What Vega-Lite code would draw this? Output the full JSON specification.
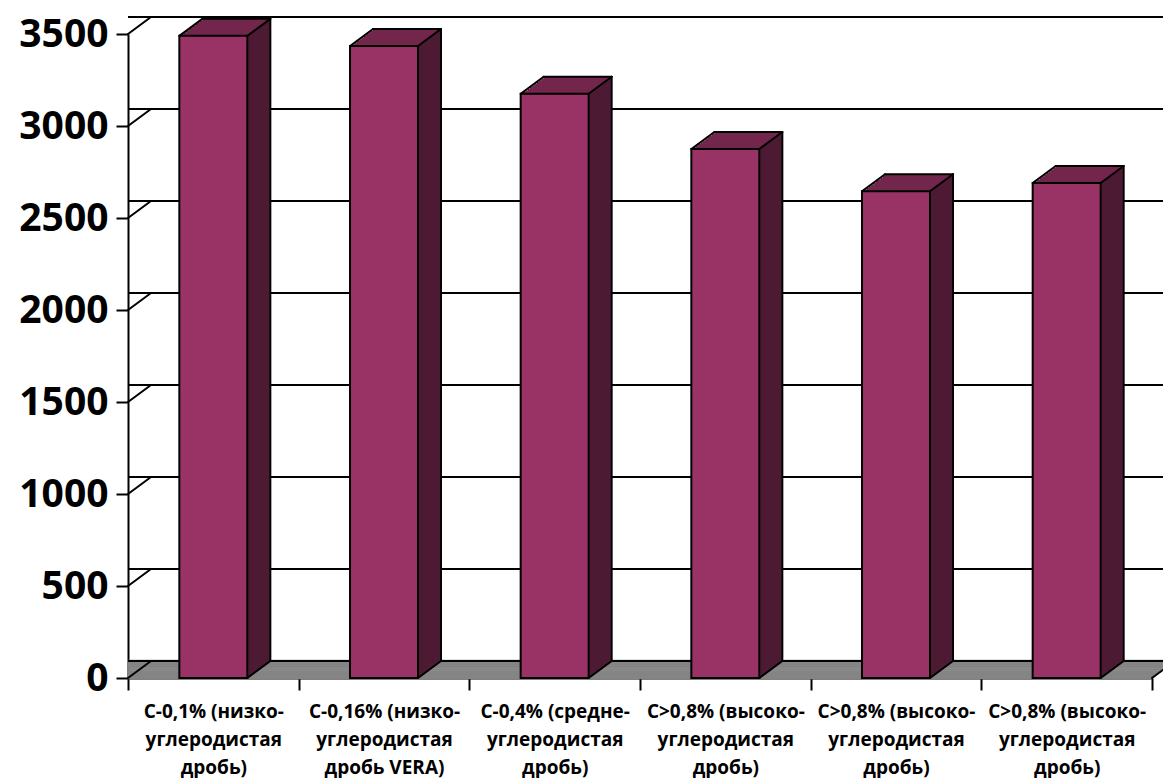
{
  "$schema": "https://vega.github.io/schema/vega-lite/v6.json",
  "width": 1024,
  "height": 644,
  "autosize": {"type": "none"},
  "padding": {"left": 128, "top": 34, "right": 11, "bottom": 100},
  "background": "white",
  "config": {
    "view": {"stroke": null},
    "axisX": {"grid": false, "tickBand": "extent", "labelFont": "Open Sans", "labelFontSize": 19, "labelFontWeight": "bold", "labelColor": "black", "labelLineHeight": 28, "labelPadding": 12, "labelAngle": 0, "labelLimit": 0, "tickSize": 12, "tickWidth": 2, "tickColor": "black", "domainColor": "black", "domainWidth": 2, "zindex": 1},
    "axisY": {"grid": false, "format": "d", "labelFont": "Open Sans", "labelFontSize": 39, "labelFontWeight": "bold", "labelColor": "black", "labelPadding": 8, "tickSize": 12, "tickWidth": 2, "tickColor": "black", "domainColor": "black", "domainWidth": 2, "zindex": 1}
  },
  "datasets": {
    "bars": [
      {"cat": "С-0,1% (низко-|углеродистая|дробь)", "value": 3490},
      {"cat": "С-0,16% (низко-|углеродистая|дробь VERA)", "value": 3435},
      {"cat": "С-0,4% (средне-|углеродистая|дробь)", "value": 3175},
      {"cat": "С>0,8% (высоко-|углеродистая|дробь)|1", "value": 2875},
      {"cat": "С>0,8% (высоко-|углеродистая|дробь)|2", "value": 2645},
      {"cat": "С>0,8% (высоко-|углеродистая|дробь)|3", "value": 2690}
    ],
    "grid": [{"g": 0}, {"g": 500}, {"g": 1000}, {"g": 1500}, {"g": 2000}, {"g": 2500}, {"g": 3000}, {"g": 3500}],
    "floor": [{"level": 0}]
  },
  "layer": [
    {"data": {"name": "floor"}, "mark": {"type": "rule", "color": "#848484", "strokeWidth": 2.6, "xOffset": 0, "x2Offset": 0, "yOffset": 0}, "encoding": {"y": {"field": "level", "type": "quantitative", "title": null}}},
    {"data": {"name": "floor"}, "mark": {"type": "rule", "color": "#848484", "strokeWidth": 2.6, "xOffset": 2.875, "x2Offset": 2.875, "yOffset": -2.125}, "encoding": {"y": {"field": "level", "type": "quantitative", "title": null}}},
    {"data": {"name": "floor"}, "mark": {"type": "rule", "color": "#848484", "strokeWidth": 2.6, "xOffset": 5.75, "x2Offset": 5.75, "yOffset": -4.25}, "encoding": {"y": {"field": "level", "type": "quantitative", "title": null}}},
    {"data": {"name": "floor"}, "mark": {"type": "rule", "color": "#848484", "strokeWidth": 2.6, "xOffset": 8.625, "x2Offset": 8.625, "yOffset": -6.375}, "encoding": {"y": {"field": "level", "type": "quantitative", "title": null}}},
    {"data": {"name": "floor"}, "mark": {"type": "rule", "color": "#848484", "strokeWidth": 2.6, "xOffset": 11.5, "x2Offset": 11.5, "yOffset": -8.5}, "encoding": {"y": {"field": "level", "type": "quantitative", "title": null}}},
    {"data": {"name": "floor"}, "mark": {"type": "rule", "color": "#848484", "strokeWidth": 2.6, "xOffset": 14.375, "x2Offset": 14.375, "yOffset": -10.625}, "encoding": {"y": {"field": "level", "type": "quantitative", "title": null}}},
    {"data": {"name": "floor"}, "mark": {"type": "rule", "color": "#848484", "strokeWidth": 2.6, "xOffset": 17.25, "x2Offset": 17.25, "yOffset": -12.75}, "encoding": {"y": {"field": "level", "type": "quantitative", "title": null}}},
    {"data": {"name": "floor"}, "mark": {"type": "rule", "color": "#848484", "strokeWidth": 2.6, "xOffset": 20.125, "x2Offset": 20.125, "yOffset": -14.875}, "encoding": {"y": {"field": "level", "type": "quantitative", "title": null}}},
    {"data": {"name": "floor"}, "mark": {"type": "rule", "color": "#848484", "strokeWidth": 2.6, "xOffset": 23, "x2Offset": 23, "yOffset": -17}, "encoding": {"y": {"field": "level", "type": "quantitative", "title": null}}},

    {"data": {"name": "grid"}, "mark": {"type": "rule", "color": "black", "strokeWidth": 2, "xOffset": 23, "x2Offset": 23, "yOffset": -17}, "encoding": {"y": {"field": "g", "type": "quantitative", "title": null}}},
    {"data": {"name": "grid"}, "mark": {"type": "rule", "color": "black", "strokeWidth": 2, "strokeCap": "round", "x2Offset": 23, "y2Offset": -17}, "encoding": {
      "x": {"datum": "С-0,1% (низко-|углеродистая|дробь)", "type": "nominal", "bandPosition": 0, "title": null},
      "x2": {"datum": "С-0,1% (низко-|углеродистая|дробь)", "bandPosition": 0},
      "y": {"field": "g", "type": "quantitative", "title": null},
      "y2": {"field": "g"}}},
    {"data": {"name": "floor"}, "mark": {"type": "rule", "color": "black", "strokeWidth": 2, "strokeCap": "round", "x2Offset": 23, "y2Offset": -17}, "encoding": {
      "x": {"datum": "С>0,8% (высоко-|углеродистая|дробь)|3", "type": "nominal", "bandPosition": 1, "title": null},
      "x2": {"datum": "С>0,8% (высоко-|углеродистая|дробь)|3", "bandPosition": 1},
      "y": {"datum": 0, "type": "quantitative", "title": null},
      "y2": {"datum": 0}}},

    {"data": {"name": "bars"}, "mark": {"type": "bar", "width": 68, "color": "#73264C", "xOffset": 23, "yOffset": -17, "y2Offset": -17}, "encoding": {"x": {"field": "cat", "type": "nominal", "sort": null, "title": null}, "y": {"field": "value", "type": "quantitative", "title": null}, "y2": {"datum": 0}}},
    {"data": {"name": "bars"}, "mark": {"type": "bar", "width": 68, "color": "#73264C", "xOffset": 20.7, "yOffset": -15.3, "y2Offset": -15.3}, "encoding": {"x": {"field": "cat", "type": "nominal", "sort": null, "title": null}, "y": {"field": "value", "type": "quantitative", "title": null}, "y2": {"datum": 0}}},
    {"data": {"name": "bars"}, "mark": {"type": "bar", "width": 68, "color": "#73264C", "xOffset": 18.4, "yOffset": -13.6, "y2Offset": -13.6}, "encoding": {"x": {"field": "cat", "type": "nominal", "sort": null, "title": null}, "y": {"field": "value", "type": "quantitative", "title": null}, "y2": {"datum": 0}}},
    {"data": {"name": "bars"}, "mark": {"type": "bar", "width": 68, "color": "#73264C", "xOffset": 16.1, "yOffset": -11.9, "y2Offset": -11.9}, "encoding": {"x": {"field": "cat", "type": "nominal", "sort": null, "title": null}, "y": {"field": "value", "type": "quantitative", "title": null}, "y2": {"datum": 0}}},
    {"data": {"name": "bars"}, "mark": {"type": "bar", "width": 68, "color": "#73264C", "xOffset": 13.8, "yOffset": -10.2, "y2Offset": -10.2}, "encoding": {"x": {"field": "cat", "type": "nominal", "sort": null, "title": null}, "y": {"field": "value", "type": "quantitative", "title": null}, "y2": {"datum": 0}}},
    {"data": {"name": "bars"}, "mark": {"type": "bar", "width": 68, "color": "#73264C", "xOffset": 11.5, "yOffset": -8.5, "y2Offset": -8.5}, "encoding": {"x": {"field": "cat", "type": "nominal", "sort": null, "title": null}, "y": {"field": "value", "type": "quantitative", "title": null}, "y2": {"datum": 0}}},
    {"data": {"name": "bars"}, "mark": {"type": "bar", "width": 68, "color": "#73264C", "xOffset": 9.2, "yOffset": -6.8, "y2Offset": -6.8}, "encoding": {"x": {"field": "cat", "type": "nominal", "sort": null, "title": null}, "y": {"field": "value", "type": "quantitative", "title": null}, "y2": {"datum": 0}}},
    {"data": {"name": "bars"}, "mark": {"type": "bar", "width": 68, "color": "#73264C", "xOffset": 6.9, "yOffset": -5.1, "y2Offset": -5.1}, "encoding": {"x": {"field": "cat", "type": "nominal", "sort": null, "title": null}, "y": {"field": "value", "type": "quantitative", "title": null}, "y2": {"datum": 0}}},
    {"data": {"name": "bars"}, "mark": {"type": "bar", "width": 68, "color": "#73264C", "xOffset": 4.6, "yOffset": -3.4, "y2Offset": -3.4}, "encoding": {"x": {"field": "cat", "type": "nominal", "sort": null, "title": null}, "y": {"field": "value", "type": "quantitative", "title": null}, "y2": {"datum": 0}}},
    {"data": {"name": "bars"}, "mark": {"type": "bar", "width": 68, "color": "#73264C", "xOffset": 2.3, "yOffset": -1.7, "y2Offset": -1.7}, "encoding": {"x": {"field": "cat", "type": "nominal", "sort": null, "title": null}, "y": {"field": "value", "type": "quantitative", "title": null}, "y2": {"datum": 0}}},

    {"data": {"name": "bars"}, "mark": {"type": "rule", "color": "#4D1A33", "strokeWidth": 2.8, "xOffset": 36.3, "yOffset": -1.7, "y2Offset": -1.7}, "encoding": {"x": {"field": "cat", "type": "nominal", "sort": null, "title": null}, "y": {"field": "value", "type": "quantitative", "title": null}, "y2": {"datum": 0}}},
    {"data": {"name": "bars"}, "mark": {"type": "rule", "color": "#4D1A33", "strokeWidth": 2.8, "xOffset": 38.6, "yOffset": -3.4, "y2Offset": -3.4}, "encoding": {"x": {"field": "cat", "type": "nominal", "sort": null, "title": null}, "y": {"field": "value", "type": "quantitative", "title": null}, "y2": {"datum": 0}}},
    {"data": {"name": "bars"}, "mark": {"type": "rule", "color": "#4D1A33", "strokeWidth": 2.8, "xOffset": 40.9, "yOffset": -5.1, "y2Offset": -5.1}, "encoding": {"x": {"field": "cat", "type": "nominal", "sort": null, "title": null}, "y": {"field": "value", "type": "quantitative", "title": null}, "y2": {"datum": 0}}},
    {"data": {"name": "bars"}, "mark": {"type": "rule", "color": "#4D1A33", "strokeWidth": 2.8, "xOffset": 43.2, "yOffset": -6.8, "y2Offset": -6.8}, "encoding": {"x": {"field": "cat", "type": "nominal", "sort": null, "title": null}, "y": {"field": "value", "type": "quantitative", "title": null}, "y2": {"datum": 0}}},
    {"data": {"name": "bars"}, "mark": {"type": "rule", "color": "#4D1A33", "strokeWidth": 2.8, "xOffset": 45.5, "yOffset": -8.5, "y2Offset": -8.5}, "encoding": {"x": {"field": "cat", "type": "nominal", "sort": null, "title": null}, "y": {"field": "value", "type": "quantitative", "title": null}, "y2": {"datum": 0}}},
    {"data": {"name": "bars"}, "mark": {"type": "rule", "color": "#4D1A33", "strokeWidth": 2.8, "xOffset": 47.8, "yOffset": -10.2, "y2Offset": -10.2}, "encoding": {"x": {"field": "cat", "type": "nominal", "sort": null, "title": null}, "y": {"field": "value", "type": "quantitative", "title": null}, "y2": {"datum": 0}}},
    {"data": {"name": "bars"}, "mark": {"type": "rule", "color": "#4D1A33", "strokeWidth": 2.8, "xOffset": 50.1, "yOffset": -11.9, "y2Offset": -11.9}, "encoding": {"x": {"field": "cat", "type": "nominal", "sort": null, "title": null}, "y": {"field": "value", "type": "quantitative", "title": null}, "y2": {"datum": 0}}},
    {"data": {"name": "bars"}, "mark": {"type": "rule", "color": "#4D1A33", "strokeWidth": 2.8, "xOffset": 52.4, "yOffset": -13.6, "y2Offset": -13.6}, "encoding": {"x": {"field": "cat", "type": "nominal", "sort": null, "title": null}, "y": {"field": "value", "type": "quantitative", "title": null}, "y2": {"datum": 0}}},
    {"data": {"name": "bars"}, "mark": {"type": "rule", "color": "#4D1A33", "strokeWidth": 2.8, "xOffset": 54.7, "yOffset": -15.3, "y2Offset": -15.3}, "encoding": {"x": {"field": "cat", "type": "nominal", "sort": null, "title": null}, "y": {"field": "value", "type": "quantitative", "title": null}, "y2": {"datum": 0}}},

    {"data": {"name": "bars"}, "mark": {"type": "bar", "width": 68, "color": "#993366", "stroke": "black", "strokeWidth": 2}, "encoding": {
      "x": {"field": "cat", "type": "nominal", "sort": null, "title": null,
        "scale": {"domain": ["С-0,1% (низко-|углеродистая|дробь)", "С-0,16% (низко-|углеродистая|дробь VERA)", "С-0,4% (средне-|углеродистая|дробь)", "С>0,8% (высоко-|углеродистая|дробь)|1", "С>0,8% (высоко-|углеродистая|дробь)|2", "С>0,8% (высоко-|углеродистая|дробь)|3"], "paddingInner": 0, "paddingOuter": 0},
        "axis": {"orient": "bottom", "labelExpr": "slice(split(datum.label, '|'), 0, 3)"}},
      "y": {"field": "value", "type": "quantitative", "title": null,
        "scale": {"domain": [0, 3500], "nice": false},
        "axis": {"values": [0, 500, 1000, 1500, 2000, 2500, 3000, 3500]}},
      "y2": {"datum": 0}}},

    {"data": {"name": "bars"}, "mark": {"type": "rule", "color": "black", "strokeWidth": 2, "strokeCap": "round", "xOffset": -34, "x2Offset": -11, "y2Offset": -17}, "encoding": {"x": {"field": "cat", "type": "nominal", "sort": null, "title": null}, "x2": {"field": "cat"}, "y": {"field": "value", "type": "quantitative", "title": null}, "y2": {"field": "value"}}},
    {"data": {"name": "bars"}, "mark": {"type": "rule", "color": "black", "strokeWidth": 2, "strokeCap": "round", "xOffset": 34, "x2Offset": 57, "y2Offset": -17}, "encoding": {"x": {"field": "cat", "type": "nominal", "sort": null, "title": null}, "x2": {"field": "cat"}, "y": {"field": "value", "type": "quantitative", "title": null}, "y2": {"field": "value"}}},
    {"data": {"name": "bars"}, "mark": {"type": "rule", "color": "black", "strokeWidth": 2, "strokeCap": "round", "xOffset": -11, "x2Offset": 57, "yOffset": -17, "y2Offset": -17}, "encoding": {"x": {"field": "cat", "type": "nominal", "sort": null, "title": null}, "x2": {"field": "cat"}, "y": {"field": "value", "type": "quantitative", "title": null}, "y2": {"field": "value"}}},
    {"data": {"name": "bars"}, "mark": {"type": "rule", "color": "black", "strokeWidth": 2, "strokeCap": "round", "xOffset": 57, "yOffset": -17, "y2Offset": -17}, "encoding": {"x": {"field": "cat", "type": "nominal", "sort": null, "title": null}, "y": {"field": "value", "type": "quantitative", "title": null}, "y2": {"datum": 0}}},
    {"data": {"name": "bars"}, "mark": {"type": "rule", "color": "black", "strokeWidth": 2, "strokeCap": "round", "xOffset": 34, "x2Offset": 57, "y2Offset": -17}, "encoding": {"x": {"field": "cat", "type": "nominal", "sort": null, "title": null}, "x2": {"field": "cat"}, "y": {"datum": 0, "type": "quantitative", "title": null}, "y2": {"datum": 0}}}
  ]
}
